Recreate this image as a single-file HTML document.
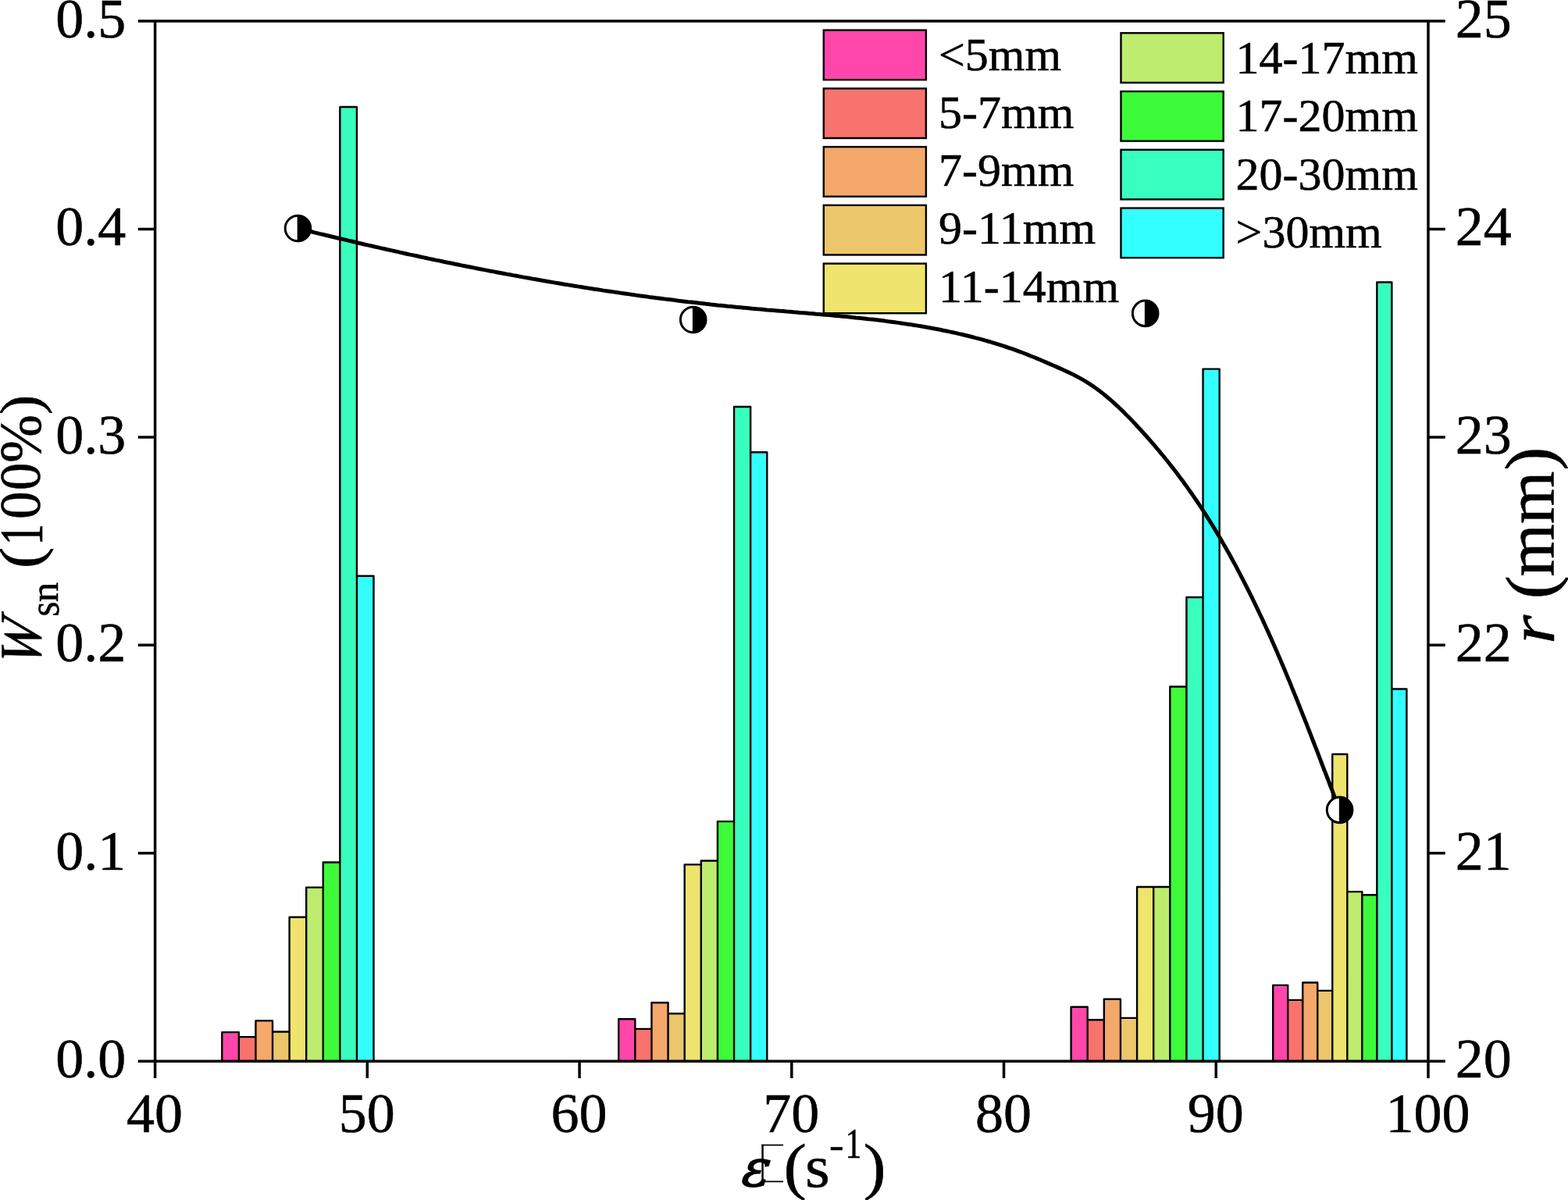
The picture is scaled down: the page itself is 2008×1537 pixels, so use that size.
<!DOCTYPE html>
<html><head><meta charset="utf-8"><title>chart</title>
<style>html,body{margin:0;padding:0;background:#fff;}svg{display:block;}</style>
</head><body>
<svg width="2008" height="1537" viewBox="0 0 2008 1537">
<rect width="2008" height="1537" fill="#fff"/>
<g font-family="'Liberation Serif','Times New Roman',serif" fill="#000">
<g><rect x="284.30" y="1322.10" width="21.58" height="37.10" fill="#FF46AA"/><rect x="305.88" y="1328.10" width="21.58" height="31.10" fill="#F8736E"/><rect x="327.46" y="1307.40" width="21.58" height="51.80" fill="#F4A86A"/><rect x="349.04" y="1321.50" width="21.58" height="37.70" fill="#ECC66B"/><rect x="370.62" y="1174.70" width="21.58" height="184.50" fill="#EEE46E"/><rect x="392.20" y="1136.60" width="21.58" height="222.60" fill="#BEEC6E"/><rect x="413.78" y="1104.50" width="21.58" height="254.70" fill="#3EFB3A"/><rect x="435.36" y="137.00" width="21.58" height="1222.20" fill="#39FFBE"/><rect x="456.94" y="737.70" width="21.58" height="621.50" fill="#33FFFF"/><rect x="792.20" y="1305.30" width="21.12" height="53.90" fill="#FF46AA"/><rect x="813.32" y="1317.90" width="21.12" height="41.30" fill="#F8736E"/><rect x="834.44" y="1284.30" width="21.12" height="74.90" fill="#F4A86A"/><rect x="855.56" y="1298.20" width="21.12" height="61.00" fill="#ECC66B"/><rect x="876.68" y="1107.40" width="21.12" height="251.80" fill="#EEE46E"/><rect x="897.80" y="1102.50" width="21.12" height="256.70" fill="#BEEC6E"/><rect x="918.92" y="1052.10" width="21.12" height="307.10" fill="#3EFB3A"/><rect x="940.04" y="521.00" width="21.12" height="838.20" fill="#39FFBE"/><rect x="961.16" y="579.30" width="21.12" height="779.90" fill="#33FFFF"/><rect x="1371.60" y="1289.70" width="21.12" height="69.50" fill="#FF46AA"/><rect x="1392.72" y="1306.20" width="21.12" height="53.00" fill="#F8736E"/><rect x="1413.84" y="1279.70" width="21.12" height="79.50" fill="#F4A86A"/><rect x="1434.96" y="1303.90" width="21.12" height="55.30" fill="#ECC66B"/><rect x="1456.08" y="1136.00" width="21.12" height="223.20" fill="#EEE46E"/><rect x="1477.20" y="1136.00" width="21.12" height="223.20" fill="#BEEC6E"/><rect x="1498.32" y="879.50" width="21.12" height="479.70" fill="#3EFB3A"/><rect x="1519.44" y="765.00" width="21.12" height="594.20" fill="#39FFBE"/><rect x="1540.56" y="472.60" width="21.12" height="886.60" fill="#33FFFF"/><rect x="1630.20" y="1261.90" width="19.02" height="97.30" fill="#FF46AA"/><rect x="1649.22" y="1280.90" width="19.02" height="78.30" fill="#F8736E"/><rect x="1668.24" y="1258.50" width="19.02" height="100.70" fill="#F4A86A"/><rect x="1687.26" y="1268.90" width="19.02" height="90.30" fill="#ECC66B"/><rect x="1706.28" y="966.00" width="19.02" height="393.20" fill="#EEE46E"/><rect x="1725.30" y="1142.10" width="19.02" height="217.10" fill="#BEEC6E"/><rect x="1744.32" y="1146.30" width="19.02" height="212.90" fill="#3EFB3A"/><rect x="1763.34" y="361.50" width="19.02" height="997.70" fill="#39FFBE"/><rect x="1782.36" y="882.50" width="19.02" height="476.70" fill="#33FFFF"/></g>
<path d="M284.30 1359.20V1322.10H305.88V1359.20M305.88 1359.20V1328.10H327.46V1359.20M327.46 1359.20V1307.40H349.04V1359.20M349.04 1359.20V1321.50H370.62V1359.20M370.62 1359.20V1174.70H392.20V1359.20M392.20 1359.20V1136.60H413.78V1359.20M413.78 1359.20V1104.50H435.36V1359.20M435.36 1359.20V137.00H456.94V1359.20M456.94 1359.20V737.70H478.52V1359.20M792.20 1359.20V1305.30H813.32V1359.20M813.32 1359.20V1317.90H834.44V1359.20M834.44 1359.20V1284.30H855.56V1359.20M855.56 1359.20V1298.20H876.68V1359.20M876.68 1359.20V1107.40H897.80V1359.20M897.80 1359.20V1102.50H918.92V1359.20M918.92 1359.20V1052.10H940.04V1359.20M940.04 1359.20V521.00H961.16V1359.20M961.16 1359.20V579.30H982.28V1359.20M1371.60 1359.20V1289.70H1392.72V1359.20M1392.72 1359.20V1306.20H1413.84V1359.20M1413.84 1359.20V1279.70H1434.96V1359.20M1434.96 1359.20V1303.90H1456.08V1359.20M1456.08 1359.20V1136.00H1477.20V1359.20M1477.20 1359.20V1136.00H1498.32V1359.20M1498.32 1359.20V879.50H1519.44V1359.20M1519.44 1359.20V765.00H1540.56V1359.20M1540.56 1359.20V472.60H1561.68V1359.20M1630.20 1359.20V1261.90H1649.22V1359.20M1649.22 1359.20V1280.90H1668.24V1359.20M1668.24 1359.20V1258.50H1687.26V1359.20M1687.26 1359.20V1268.90H1706.28V1359.20M1706.28 1359.20V966.00H1725.30V1359.20M1725.30 1359.20V1142.10H1744.32V1359.20M1744.32 1359.20V1146.30H1763.34V1359.20M1763.34 1359.20V361.50H1782.36V1359.20M1782.36 1359.20V882.50H1801.38V1359.20" fill="none" stroke="#000" stroke-width="2.40" stroke-linejoin="round"/>
<rect x="1054.8" y="38.60" width="131.1" height="63.6" fill="#FF46AA" stroke="#000" stroke-width="2.4"/>
<text x="1202.00" y="89.50" font-size="60.00" stroke="#000" stroke-width="0.55">&lt;5mm</text>
<rect x="1054.8" y="113.35" width="131.1" height="63.6" fill="#F8736E" stroke="#000" stroke-width="2.4"/>
<text x="1202.00" y="163.80" font-size="60.00" stroke="#000" stroke-width="0.55">5-7mm</text>
<rect x="1054.8" y="188.10" width="131.1" height="63.6" fill="#F4A86A" stroke="#000" stroke-width="2.4"/>
<text x="1202.00" y="238.10" font-size="60.00" stroke="#000" stroke-width="0.55">7-9mm</text>
<rect x="1054.8" y="262.85" width="131.1" height="63.6" fill="#ECC66B" stroke="#000" stroke-width="2.4"/>
<text x="1202.00" y="312.40" font-size="60.00" stroke="#000" stroke-width="0.55">9-11mm</text>
<rect x="1054.8" y="337.60" width="131.1" height="63.6" fill="#EEE46E" stroke="#000" stroke-width="2.4"/>
<text x="1202.00" y="386.70" font-size="60.00" stroke="#000" stroke-width="0.55">11-14mm</text>
<rect x="1435.5" y="42.30" width="131.2" height="63.6" fill="#BEEC6E" stroke="#000" stroke-width="2.4"/>
<text x="1582.60" y="93.80" font-size="60.00" stroke="#000" stroke-width="0.55">14-17mm</text>
<rect x="1435.5" y="117.05" width="131.2" height="63.6" fill="#3EFB3A" stroke="#000" stroke-width="2.4"/>
<text x="1582.60" y="168.25" font-size="60.00" stroke="#000" stroke-width="0.55">17-20mm</text>
<rect x="1435.5" y="191.80" width="131.2" height="63.6" fill="#39FFBE" stroke="#000" stroke-width="2.4"/>
<text x="1582.60" y="242.70" font-size="60.00" stroke="#000" stroke-width="0.55">20-30mm</text>
<rect x="1435.5" y="266.55" width="131.2" height="63.6" fill="#33FFFF" stroke="#000" stroke-width="2.4"/>
<text x="1582.60" y="317.15" font-size="60.00" stroke="#000" stroke-width="0.55">&gt;30mm</text>
<path d="M381.5 292.5 L385.6 293.5 L389.7 294.5 L393.8 295.5 L397.9 296.5 L402.0 297.6 L406.1 298.6 L410.2 299.6 L414.3 300.5 L418.4 301.5 L422.5 302.5 L426.6 303.5 L430.7 304.5 L434.8 305.5 L438.9 306.4 L443.0 307.4 L447.1 308.4 L451.2 309.3 L455.3 310.3 L459.4 311.3 L463.5 312.2 L467.6 313.2 L471.7 314.1 L475.8 315.0 L479.9 316.0 L484.0 316.9 L488.1 317.9 L492.3 318.8 L496.4 319.7 L500.5 320.6 L504.6 321.5 L508.7 322.4 L512.8 323.4 L516.9 324.3 L521.0 325.2 L525.1 326.1 L529.2 326.9 L533.4 327.8 L537.5 328.7 L541.6 329.6 L545.7 330.5 L549.8 331.4 L553.9 332.2 L558.0 333.1 L562.2 333.9 L566.3 334.8 L570.4 335.7 L574.5 336.5 L578.6 337.3 L582.8 338.2 L586.9 339.0 L591.0 339.9 L595.1 340.7 L599.2 341.5 L603.4 342.3 L607.5 343.1 L611.6 344.0 L615.7 344.8 L619.9 345.6 L624.0 346.4 L628.1 347.2 L632.2 347.9 L636.4 348.7 L640.5 349.5 L644.6 350.3 L648.8 351.1 L652.9 351.8 L657.0 352.6 L661.1 353.3 L665.3 354.1 L669.4 354.9 L673.6 355.6 L677.7 356.3 L681.8 357.1 L686.0 357.8 L690.1 358.5 L694.2 359.3 L698.4 360.0 L702.5 360.7 L706.7 361.4 L710.8 362.1 L714.9 362.8 L719.1 363.5 L723.2 364.2 L727.4 364.9 L731.5 365.5 L735.7 366.2 L739.8 366.9 L744.0 367.5 L748.1 368.2 L752.3 368.9 L756.4 369.5 L760.6 370.2 L764.7 370.8 L768.9 371.4 L773.0 372.1 L777.2 372.7 L781.3 373.3 L785.5 373.9 L789.7 374.5 L793.8 375.1 L798.0 375.7 L802.1 376.3 L806.3 376.9 L810.5 377.5 L814.6 378.1 L818.8 378.7 L823.0 379.2 L827.1 379.8 L831.3 380.4 L835.5 380.9 L839.6 381.5 L843.8 382.0 L848.0 382.5 L852.2 383.1 L856.3 383.6 L860.5 384.1 L864.7 384.6 L868.9 385.2 L873.1 385.7 L877.2 386.2 L881.4 386.7 L885.6 387.1 L889.8 387.6 L894.0 388.1 L898.2 388.6 L902.3 389.0 L906.5 389.5 L910.7 390.0 L914.9 390.4 L919.1 390.9 L923.3 391.3 L927.5 391.7 L931.7 392.2 L935.9 392.6 L940.1 393.0 L944.3 393.4 L948.5 393.8 L952.7 394.2 L956.9 394.6 L961.1 395.0 L965.3 395.4 L969.5 395.8 L973.7 396.1 L977.9 396.5 L982.1 396.9 L986.3 397.2 L990.5 397.6 L994.8 397.9 L999.0 398.3 L1003.2 398.6 L1007.4 399.0 L1011.6 399.3 L1015.8 399.7 L1020.0 400.0 L1024.2 400.4 L1028.4 400.7 L1032.7 401.1 L1036.9 401.4 L1041.1 401.8 L1045.3 402.2 L1049.5 402.5 L1053.7 402.9 L1057.9 403.3 L1062.1 403.6 L1066.3 404.0 L1070.5 404.4 L1074.7 404.8 L1078.9 405.2 L1083.1 405.6 L1087.3 406.0 L1091.5 406.4 L1095.7 406.9 L1099.9 407.3 L1104.1 407.7 L1108.3 408.2 L1112.5 408.7 L1116.7 409.1 L1120.8 409.6 L1125.0 410.1 L1129.2 410.6 L1133.4 411.1 L1137.5 411.7 L1141.7 412.2 L1145.9 412.8 L1150.0 413.4 L1154.2 414.0 L1158.3 414.6 L1162.5 415.2 L1166.6 415.8 L1170.8 416.5 L1174.9 417.1 L1179.1 417.8 L1183.2 418.5 L1187.3 419.3 L1191.4 420.0 L1195.6 420.8 L1199.7 421.5 L1203.8 422.3 L1207.9 423.2 L1212.0 424.0 L1216.1 424.9 L1220.2 425.7 L1224.3 426.6 L1228.4 427.6 L1232.5 428.5 L1236.5 429.5 L1240.6 430.5 L1244.7 431.5 L1248.7 432.6 L1252.8 433.6 L1256.8 434.7 L1260.9 435.9 L1264.9 437.0 L1268.9 438.2 L1272.9 439.4 L1277.0 440.6 L1281.0 441.9 L1285.0 443.2 L1289.0 444.5 L1293.0 445.8 L1297.0 447.2 L1300.9 448.6 L1304.9 450.1 L1308.9 451.5 L1312.8 453.0 L1316.8 454.6 L1320.7 456.2 L1324.7 457.8 L1328.6 459.4 L1332.5 461.0 L1336.4 462.7 L1340.3 464.4 L1344.2 466.1 L1348.0 467.8 L1351.9 469.4 L1355.7 471.1 L1359.5 472.8 L1363.2 474.5 L1367.0 476.3 L1370.7 478.0 L1374.4 479.8 L1378.1 481.7 L1381.7 483.6 L1385.3 485.6 L1388.8 487.7 L1392.4 489.8 L1395.9 492.1 L1399.3 494.4 L1402.7 496.8 L1406.1 499.2 L1409.5 501.8 L1412.8 504.4 L1416.1 507.0 L1419.3 509.8 L1422.6 512.5 L1425.8 515.4 L1428.9 518.3 L1432.1 521.2 L1435.2 524.1 L1438.3 527.1 L1441.3 530.2 L1444.4 533.2 L1447.4 536.3 L1450.3 539.4 L1453.3 542.5 L1456.2 545.7 L1459.1 548.8 L1462.0 552.0 L1464.9 555.2 L1467.7 558.3 L1470.5 561.5 L1473.3 564.7 L1476.1 567.9 L1478.9 571.1 L1481.6 574.3 L1484.3 577.5 L1487.0 580.8 L1489.7 584.0 L1492.3 587.3 L1494.9 590.5 L1497.5 593.8 L1500.1 597.1 L1502.7 600.4 L1505.3 603.7 L1507.8 607.0 L1510.3 610.4 L1512.8 613.7 L1515.3 617.1 L1517.7 620.5 L1520.2 623.8 L1522.6 627.3 L1525.0 630.7 L1527.4 634.1 L1529.8 637.6 L1532.1 641.0 L1534.5 644.5 L1536.8 648.0 L1539.1 651.5 L1541.4 655.0 L1543.7 658.5 L1545.9 662.1 L1548.2 665.6 L1550.4 669.2 L1552.6 672.8 L1554.8 676.4 L1557.0 680.0 L1559.1 683.6 L1561.3 687.2 L1563.4 690.8 L1565.5 694.5 L1567.6 698.1 L1569.7 701.8 L1571.8 705.4 L1573.9 709.1 L1575.9 712.8 L1577.9 716.5 L1580.0 720.2 L1582.0 723.9 L1584.0 727.6 L1585.9 731.3 L1587.9 735.1 L1589.8 738.8 L1591.8 742.6 L1593.7 746.3 L1595.6 750.1 L1597.5 753.8 L1599.4 757.6 L1601.3 761.4 L1603.2 765.2 L1605.0 769.0 L1606.9 772.8 L1608.7 776.6 L1610.5 780.4 L1612.3 784.2 L1614.1 788.0 L1615.9 791.8 L1617.7 795.6 L1619.4 799.4 L1621.2 803.3 L1622.9 807.1 L1624.7 810.9 L1626.4 814.8 L1628.1 818.6 L1629.8 822.5 L1631.5 826.3 L1633.2 830.2 L1634.9 834.0 L1636.5 837.9 L1638.2 841.8 L1639.9 845.6 L1641.5 849.5 L1643.2 853.4 L1644.8 857.3 L1646.4 861.1 L1648.0 865.0 L1649.6 868.9 L1651.3 872.8 L1652.9 876.7 L1654.4 880.6 L1656.0 884.5 L1657.6 888.4 L1659.2 892.3 L1660.8 896.2 L1662.3 900.1 L1663.9 904.0 L1665.4 907.9 L1667.0 911.8 L1668.5 915.7 L1670.1 919.6 L1671.6 923.5 L1673.2 927.4 L1674.7 931.4 L1676.2 935.3 L1677.8 939.2 L1679.3 943.1 L1680.8 947.0 L1682.3 951.0 L1683.8 954.9 L1685.4 958.8 L1686.9 962.7 L1688.4 966.7 L1689.9 970.6 L1691.4 974.5 L1692.9 978.5 L1694.4 982.4 L1695.9 986.3 L1697.4 990.2 L1699.0 994.2 L1700.5 998.1 L1702.0 1002.0 L1703.5 1006.0 L1705.0 1009.9 L1706.5 1013.8 L1708.0 1017.8 L1709.5 1021.7 L1711.0 1025.6 L1712.6 1029.5 L1714.1 1033.5 L1715.6 1037.4" fill="none" stroke="#000" stroke-width="5.0" stroke-linejoin="round" stroke-linecap="round"/>
<g><circle cx="381.50" cy="292.50" r="16.30" fill="#fff"/><path d="M380.70 276.22A16.30 16.30 0 1 1 380.70 308.78Z" fill="#000"/><circle cx="381.50" cy="292.50" r="16.30" fill="none" stroke="#000" stroke-width="3"/></g>
<g><circle cx="887.70" cy="409.50" r="16.30" fill="#fff"/><path d="M886.90 393.22A16.30 16.30 0 1 1 886.90 425.78Z" fill="#000"/><circle cx="887.70" cy="409.50" r="16.30" fill="none" stroke="#000" stroke-width="3"/></g>
<g><circle cx="1466.70" cy="401.40" r="16.30" fill="#fff"/><path d="M1465.90 385.12A16.30 16.30 0 1 1 1465.90 417.68Z" fill="#000"/><circle cx="1466.70" cy="401.40" r="16.30" fill="none" stroke="#000" stroke-width="3"/></g>
<g><circle cx="1715.60" cy="1037.40" r="16.30" fill="#fff"/><path d="M1714.80 1021.12A16.30 16.30 0 1 1 1714.80 1053.68Z" fill="#000"/><circle cx="1715.60" cy="1037.40" r="16.30" fill="none" stroke="#000" stroke-width="3"/></g>
<path d="M176.80 27.00H1850.80M176.80 1359.20H1850.80M198.60 27.00V1381.00M1829.00 27.00V1381.00M176.80 1092.76H198.60M1829.00 1092.76H1850.80M176.80 826.32H198.60M1829.00 826.32H1850.80M176.80 559.88H198.60M1829.00 559.88H1850.80M176.80 293.44H198.60M1829.00 293.44H1850.80M470.33 1359.20V1381.00M742.07 1359.20V1381.00M1013.80 1359.20V1381.00M1285.53 1359.20V1381.00M1557.27 1359.20V1381.00" fill="none" stroke="#000" stroke-width="3.50" stroke-linecap="butt"/>
<text x="198.10" y="1450.40" font-size="72.00" text-anchor="middle" stroke="#000" stroke-width="0.55">40</text>
<text x="469.83" y="1450.40" font-size="72.00" text-anchor="middle" stroke="#000" stroke-width="0.55">50</text>
<text x="741.57" y="1450.40" font-size="72.00" text-anchor="middle" stroke="#000" stroke-width="0.55">60</text>
<text x="1013.30" y="1450.40" font-size="72.00" text-anchor="middle" stroke="#000" stroke-width="0.55">70</text>
<text x="1285.03" y="1450.40" font-size="72.00" text-anchor="middle" stroke="#000" stroke-width="0.55">80</text>
<text x="1556.77" y="1450.40" font-size="72.00" text-anchor="middle" stroke="#000" stroke-width="0.55">90</text>
<text x="1828.50" y="1450.40" font-size="72.00" text-anchor="middle" stroke="#000" stroke-width="0.55">100</text>
<text x="161.30" y="1380.10" font-size="72.00" text-anchor="end" stroke="#000" stroke-width="0.55">0.0</text>
<text x="1863.70" y="1380.10" font-size="72.00" stroke="#000" stroke-width="0.55">20</text>
<text x="161.30" y="1113.66" font-size="72.00" text-anchor="end" stroke="#000" stroke-width="0.55">0.1</text>
<text x="1863.70" y="1113.66" font-size="72.00" stroke="#000" stroke-width="0.55">21</text>
<text x="161.30" y="847.22" font-size="72.00" text-anchor="end" stroke="#000" stroke-width="0.55">0.2</text>
<text x="1863.70" y="847.22" font-size="72.00" stroke="#000" stroke-width="0.55">22</text>
<text x="161.30" y="580.78" font-size="72.00" text-anchor="end" stroke="#000" stroke-width="0.55">0.3</text>
<text x="1863.70" y="580.78" font-size="72.00" stroke="#000" stroke-width="0.55">23</text>
<text x="161.30" y="314.34" font-size="72.00" text-anchor="end" stroke="#000" stroke-width="0.55">0.4</text>
<text x="1863.70" y="314.34" font-size="72.00" stroke="#000" stroke-width="0.55">24</text>
<text x="161.30" y="47.90" font-size="72.00" text-anchor="end" stroke="#000" stroke-width="0.55">0.5</text>
<text x="1863.70" y="47.90" font-size="72.00" stroke="#000" stroke-width="0.55">25</text>
<text transform="translate(948.77 1519.04) scale(0.6774 0.6536) skewX(-6.00)" x="0" y="0" font-family="DejaVu Serif" font-size="100" font-style="italic" stroke="#000" stroke-width="2.254">ε</text>
<text transform="translate(1003.46 1520.54) scale(0.8846 0.8078)" x="0" y="0" font-family="Liberation Serif" font-size="100" stroke="#000" stroke-width="0.650">(</text>
<text transform="translate(1030.94 1520.13) scale(0.8156 0.7708)" x="0" y="0" font-family="Liberation Serif" font-size="100" stroke="#000" stroke-width="0.693">s</text>
<text transform="translate(1062.12 1482.55) scale(0.5593 0.4875)" x="0" y="0" font-family="Liberation Serif" font-size="100" stroke="#000" stroke-width="1.051">-</text>
<text transform="translate(1082.83 1482.90) scale(0.4083 0.5439)" x="0" y="0" font-family="Liberation Serif" font-size="100" stroke="#000" stroke-width="1.155">1</text>
<text transform="translate(1105.48 1520.54) scale(0.8731 0.8078)" x="0" y="0" font-family="Liberation Serif" font-size="100" stroke="#000" stroke-width="0.654">)</text>
<text transform="translate(52.29 854.96) scale(0.7574 0.7035) rotate(-90) skewX(-10.00)" x="0" y="0" font-family="Liberation Serif" font-size="100" font-style="italic" stroke="#000" stroke-width="0.753">W</text>
<text transform="translate(75.06 789.77) scale(0.5396 0.4937) rotate(-90)" x="0" y="0" font-family="Liberation Serif" font-size="100" stroke="#000" stroke-width="1.065">s</text>
<text transform="translate(74.39 771.22) scale(0.5083 0.5106) rotate(-90)" x="0" y="0" font-family="Liberation Serif" font-size="100" stroke="#000" stroke-width="1.080">n</text>
<text transform="translate(51.99 728.21) scale(0.7578 0.8269) rotate(-90)" x="0" y="0" font-family="Liberation Serif" font-size="100" stroke="#000" stroke-width="0.694">(</text>
<text transform="translate(52.80 698.26) scale(0.7727 0.5444) rotate(-90)" x="0" y="0" font-family="Liberation Serif" font-size="100" stroke="#000" stroke-width="0.835">1</text>
<text transform="translate(51.40 665.04) scale(0.7500 0.7136) rotate(-90)" x="0" y="0" font-family="Liberation Serif" font-size="100" stroke="#000" stroke-width="0.752">0</text>
<text transform="translate(51.40 628.14) scale(0.7500 0.7136) rotate(-90)" x="0" y="0" font-family="Liberation Serif" font-size="100" stroke="#000" stroke-width="0.752">0</text>
<text transform="translate(51.67 592.82) scale(0.7647 0.7403) rotate(-90)" x="0" y="0" font-family="Liberation Serif" font-size="100" stroke="#000" stroke-width="0.731">%</text>
<text transform="translate(50.96 531.20) scale(0.7429 0.7654) rotate(-90)" x="0" y="0" font-family="Liberation Serif" font-size="100" stroke="#000" stroke-width="0.729">)</text>
<text transform="translate(1989.70 824.71) scale(0.8271 0.9514) rotate(-90)" x="0" y="0" font-family="Liberation Serif" font-size="100" font-style="italic" stroke="#000" stroke-width="0.618">r</text>
<text transform="translate(1989.69 767.23) scale(0.8956 0.9077) rotate(-90)" x="0" y="0" font-family="Liberation Serif" font-size="100" stroke="#000" stroke-width="0.610">(</text>
<text transform="translate(1989.90 738.54) scale(0.8894 0.8678) rotate(-90)" x="0" y="0" font-family="Liberation Serif" font-size="100" stroke="#000" stroke-width="0.626">mm</text>
<text transform="translate(1989.09 602.72) scale(0.8824 0.9077) rotate(-90)" x="0" y="0" font-family="Liberation Serif" font-size="100" stroke="#000" stroke-width="0.614">)</text>
<path d="M976.55 1465.9V1514.3" fill="none" stroke="#000" stroke-width="2.5"/>
<path d="M975.3 1466.7H1003.1M975.3 1513.4H1003.1" fill="none" stroke="#000" stroke-width="1.7"/>
</g></svg>
</body></html>
